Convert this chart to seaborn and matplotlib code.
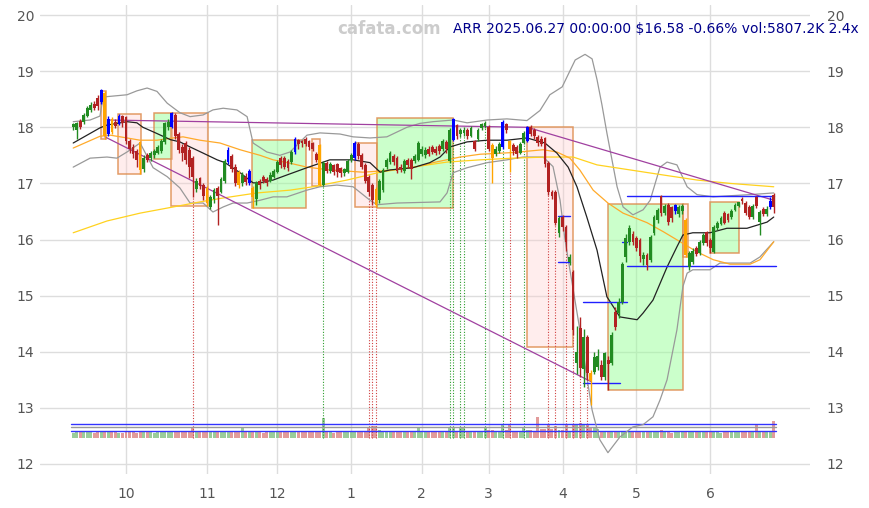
import matplotlib
matplotlib.use("Agg")
import matplotlib.pyplot as plt
from matplotlib.patches import Rectangle
import numpy as np
import seaborn as sns

# ---- daily bars, 2024-09-10 .. 2025-06-27 (trading-day index 0..199) ----
opens = [
    18.00, 17.96, 18.12, 18.10, 18.20, 18.30, 18.42, 18.52, 18.45, 18.62, 17.88, 18.15, 18.10, 18.06, 18.20,
    18.18, 17.75, 17.65, 17.58, 17.74, 17.25, 17.50, 17.45, 17.50, 17.55, 17.58, 17.74, 18.00, 18.00, 18.22,
    17.88, 17.65, 17.72, 17.60, 17.45, 16.90, 17.10, 16.98,
    16.92, 16.58, 16.72, 16.92, 16.85, 17.05, 17.38, 17.48, 17.30, 17.20, 17.00, 17.12, 17.00, 16.92, 16.72,
    17.05, 17.12, 17.08, 17.05, 17.12,
    17.20, 17.45, 17.45, 17.40, 17.38, 17.56, 17.78, 17.76, 17.80, 17.75, 17.72, 17.52, 17.68, 16.98, 17.36,
    17.22, 17.32, 17.34, 17.28, 17.18, 17.20,
    17.42, 17.45, 17.70, 17.50, 17.32, 17.12, 16.98, 16.90, 16.70, 16.88, 17.29, 17.38, 17.48, 17.45, 17.30,
    17.22, 17.42, 17.42, 17.40, 17.42,
    17.52, 17.50, 17.62, 17.65, 17.62, 17.66, 17.62, 17.74, 17.40, 17.78, 18.04, 17.88, 17.90, 17.96, 17.85,
    17.75, 17.80, 17.98, 18.02,
    18.00, 17.68, 17.52, 17.58, 17.65, 18.05, 17.76, 17.68, 17.65, 17.55, 17.72, 17.76, 18.00, 17.96, 17.82,
    17.80, 17.81, 17.37, 16.85, 16.85, 16.12,
    16.40, 16.22, 15.60, 15.42, 13.80, 14.42, 13.70, 14.26, 13.62, 13.64, 13.73, 13.76, 13.55, 13.85, 13.80,
    14.71, 14.69, 14.89, 15.69, 15.96, 16.10,
    16.03, 16.00, 15.65, 15.73, 15.64, 16.12, 16.35, 16.78, 16.47, 16.62, 16.58, 16.50, 16.45, 16.50, 16.35,
    15.51, 15.60, 15.85, 15.76, 15.93, 16.13,
    16.00, 15.78, 16.20, 16.28, 16.47, 16.45, 16.40, 16.52, 16.60, 16.72, 16.65, 16.58, 16.40, 16.75, 16.32,
    16.55, 16.45, 16.58, 16.80,
]
closes = [
    18.05, 18.08, 18.00, 18.22, 18.35, 18.40, 18.35, 18.38, 18.66, 17.85, 18.15, 17.92, 18.02, 18.20, 18.08,
    17.75, 17.62, 17.52, 17.42, 17.24, 17.45, 17.42, 17.55, 17.58, 17.65, 17.76, 18.08, 18.10, 18.25, 17.85,
    17.60, 17.55, 17.42, 17.30, 17.12, 17.05, 16.95, 16.78,
    16.65, 16.75, 16.88, 16.78, 17.08, 17.40, 17.60, 17.25, 17.00, 16.98, 17.15, 17.02, 17.22, 16.75, 17.00,
    16.98, 17.05, 17.00, 17.15, 17.22,
    17.38, 17.32, 17.30, 17.28, 17.56, 17.80, 17.70, 17.72, 17.70, 17.65, 17.62, 17.42, 16.98, 17.36, 17.22,
    17.35, 17.20, 17.20, 17.18, 17.25, 17.40,
    17.50, 17.72, 17.48, 17.30, 17.05, 16.85, 16.70, 16.62, 17.05, 17.24, 17.42, 17.54, 17.38, 17.22, 17.25,
    17.40, 17.32, 17.25, 17.48, 17.72,
    17.62, 17.60, 17.52, 17.56, 17.55, 17.58, 17.76, 17.62, 17.95, 18.15, 17.84, 17.95, 17.96, 17.85, 17.98,
    17.62, 17.95, 18.05, 18.08,
    17.62, 17.45, 17.62, 17.70, 18.10, 17.95, 17.62, 17.58, 17.52, 17.70, 17.90, 18.00, 17.88, 17.84, 17.72,
    17.70, 17.35, 16.84, 16.77, 16.30, 16.38,
    16.22, 15.96, 15.69, 14.39, 14.00, 13.71, 14.26, 13.62, 13.48, 13.90, 13.93, 13.55, 13.97, 13.78, 14.30,
    14.44, 14.89, 15.56, 16.03, 16.20, 15.96,
    15.85, 15.70, 15.72, 15.55, 16.05, 16.40, 16.53, 16.47, 16.60, 16.31, 16.38, 16.62, 16.58, 16.60, 15.72,
    15.76, 15.80, 15.75, 15.96, 16.08, 15.93,
    15.85, 16.22, 16.30, 16.38, 16.30, 16.35, 16.50, 16.62, 16.66, 16.68, 16.47, 16.40, 16.60, 16.60, 16.49,
    16.45, 16.55, 16.69, 16.58,
]
highs = [
    18.08, 18.10, 18.15, 18.25, 18.38, 18.45, 18.47, 18.58, 18.68, 18.65, 18.20, 18.18, 18.14, 18.24, 18.22,
    18.20, 17.80, 17.70, 17.62, 17.76, 17.50, 17.54, 17.58, 17.62, 17.68, 17.80, 18.10, 18.14, 18.27, 18.26,
    17.92, 17.70, 17.76, 17.64, 17.48, 17.10, 17.12, 17.00,
    16.95, 16.80, 16.92, 16.95, 17.12, 17.44, 17.65, 17.52, 17.34, 17.24, 17.20, 17.18, 17.26, 16.95, 17.04,
    17.08, 17.15, 17.12, 17.20, 17.26,
    17.42, 17.48, 17.48, 17.44, 17.60, 17.82, 17.79, 17.78, 17.82, 17.78, 17.74, 17.56, 17.70, 17.40, 17.40,
    17.38, 17.35, 17.36, 17.30, 17.28, 17.44,
    17.54, 17.75, 17.74, 17.54, 17.36, 17.15, 17.00, 16.93, 17.08, 17.28, 17.46, 17.58, 17.52, 17.48, 17.34,
    17.44, 17.45, 17.45, 17.52, 17.76,
    17.66, 17.64, 17.66, 17.68, 17.66, 17.70, 17.80, 17.78, 17.98, 18.17, 18.06, 17.99, 18.00, 17.98, 18.02,
    17.78, 17.98, 18.08, 18.12,
    18.04, 17.72, 17.66, 17.74, 18.13, 18.08, 17.78, 17.72, 17.68, 17.74, 17.93, 18.02, 18.04, 17.98, 17.86,
    17.84, 17.83, 17.40, 16.88, 16.88, 16.42,
    16.44, 16.25, 15.75, 15.45, 14.45, 14.62, 14.40, 14.30, 13.68, 14.00, 14.05, 13.85, 14.00, 13.92, 14.35,
    14.80, 14.95, 15.60, 16.10, 16.25, 16.15,
    16.06, 16.02, 15.78, 15.76, 16.08, 16.44, 16.56, 16.80, 16.63, 16.65, 16.60, 16.64, 16.62, 16.63, 16.38,
    15.80, 15.84, 15.88, 16.00, 16.12, 16.15,
    16.03, 16.25, 16.33, 16.42, 16.50, 16.48, 16.54, 16.65, 16.67, 16.76, 16.68, 16.62, 16.64, 16.78, 16.52,
    16.58, 16.60, 16.76, 16.82,
]
lows = [
    17.95, 17.80, 17.97, 18.05, 18.18, 18.28, 18.30, 18.30, 18.42, 17.80, 17.85, 17.88, 17.98, 18.04, 18.00,
    17.70, 17.55, 17.45, 17.30, 17.17, 17.20, 17.38, 17.40, 17.46, 17.52, 17.55, 17.70, 17.95, 17.98, 17.80,
    17.55, 17.40, 17.35, 17.10, 16.75, 16.85, 16.90, 16.70,
    16.60, 16.55, 16.65, 16.25, 16.82, 17.00, 17.35, 17.20, 16.95, 16.92, 16.96, 16.98, 16.97, 16.56, 16.62,
    16.90, 17.00, 16.95, 17.02, 17.10,
    17.18, 17.28, 17.25, 17.22, 17.35, 17.52, 17.62, 17.65, 17.66, 17.60, 17.58, 17.38, 16.96, 16.95, 17.18,
    17.18, 17.15, 17.12, 17.12, 17.14, 17.18,
    17.38, 17.42, 17.44, 17.26, 17.00, 16.78, 16.62, 16.58, 16.65, 16.85, 17.25, 17.35, 17.32, 17.18, 17.20,
    17.18, 17.28, 17.08, 17.36, 17.40,
    17.48, 17.46, 17.48, 17.52, 17.50, 17.52, 17.58, 17.55, 17.36, 17.75, 17.80, 17.82, 17.85, 17.80, 17.82,
    17.58, 17.76, 17.95, 17.98,
    17.58, 17.00, 17.48, 17.54, 17.62, 17.90, 17.20, 17.50, 17.45, 17.52, 17.70, 17.74, 17.84, 17.80, 17.66,
    17.66, 17.30, 16.80, 16.72, 16.26, 16.05,
    16.15, 15.80, 15.55, 14.30, 13.60, 13.55, 13.37, 13.50, 13.05, 13.60, 13.68, 13.50, 13.50, 13.32, 13.76,
    14.38, 14.60, 14.85, 15.60, 15.90, 15.90,
    15.80, 15.60, 15.55, 15.45, 15.60, 16.08, 16.30, 16.42, 16.44, 16.25, 16.32, 16.46, 16.40, 16.46, 15.68,
    15.45, 15.56, 15.70, 15.72, 15.90, 15.88,
    15.76, 15.76, 16.17, 16.25, 16.27, 16.32, 16.37, 16.50, 16.58, 16.64, 16.44, 16.36, 16.37, 16.56, 16.08,
    16.42, 16.42, 16.55, 16.48,
]
volumes_k = [
    1600, 1800, 1900, 2100, 2200, 1800, 1700, 1900, 2000, 2400, 2100, 2000, 1800, 1700, 1600,
    1900, 2000, 1800, 1700, 2300, 2200, 1800, 1900, 1700, 2000, 1800, 1900, 2200, 2400, 2000,
    1900, 2100, 1800, 2000, 3700, 2100, 1900, 2000,
    2300, 1900, 1800, 2000, 1800, 1900, 2000, 2100, 1900, 1800, 3600, 2000, 1900, 2200, 1800,
    1900, 1700, 1800, 1900, 1900,
    2000, 1800, 1900, 2100, 2200, 2100, 2000, 1800, 1900, 2000, 2200, 1900, 2300, 6900, 2200,
    1900, 1700, 2000, 2300, 2200, 2100,
    2200, 2400, 2100, 2000, 2000, 3800, 3900, 4100, 2500, 2100, 2200, 2000, 2100, 2200, 1900,
    2100, 2000, 2300, 1900, 3600,
    2100, 2000, 1900, 2200, 2000, 1900, 2100, 2000, 3700, 3800, 2200, 3700, 3700, 2300, 2100,
    2000, 2300, 2400, 3700,
    2600, 2500, 2300, 2400, 4600, 2700, 4600, 2400, 2300, 2200, 3700, 2500, 2600, 2400, 7100,
    2800, 3000, 4200, 3000, 4000, 2600,
    2500, 4200, 2400, 4800, 4700, 4900, 4700, 4600, 3700, 3200, 2900, 2400, 2000, 1800, 2000,
    2100, 2200, 2300, 2100, 2100, 1900,
    2000, 2100, 1800, 2000, 1900, 2200, 2000, 2600, 1900, 1800, 1700, 2000, 1900, 1800, 2200,
    2000, 1900, 1800, 2100, 1900, 1800,
    1900, 2000, 1800, 1700, 2200, 1900, 1800, 2100, 1800, 1900, 1800, 1900, 2000, 4500, 2000,
    1800, 1900, 2000, 5807.2,
]

# highlighted bars
blue_days = [8, 10, 13, 28, 44, 50, 63, 80, 108, 122, 129, 171, 198]
orange_days = [9, 11, 19, 38, 47, 51, 70, 86, 119, 124, 147, 174]
# days marked with a dotted drop line
marked_days = [34, 71, 84, 85, 86, 107, 108, 110, 111, 117, 122, 124, 128,
               135, 137, 140, 142, 144, 146]

# month ticks (trading-day index of first session)
month_ticks = [15, 38, 58, 79, 99, 118, 139, 160, 181]
month_labels = ["10", "11", "12", "1", "2", "3", "4", "5", "6"]

# indicator curves: (trading-day index, price)
ma_mid = [(0, 17.72), (7.6, 17.99), (9.6, 18.04), (15.3, 18.10), (18.1, 18.08), (19.8, 18.00),
          (22.7, 17.92), (27.6, 17.78), (30.3, 17.74), (33.2, 17.65), (36.9, 17.54), (40.9, 17.42),
          (43.1, 17.37), (47.4, 17.19), (51.1, 17.01), (53.1, 17.01), (56.8, 17.06), (60.7, 17.15),
          (66.4, 17.28), (72.9, 17.42), (79.5, 17.42), (84.3, 17.37), (87.2, 17.20), (90.0, 17.24),
          (96.5, 17.28), (101.3, 17.37), (104.2, 17.47), (107.0, 17.65), (111.9, 17.74), (117.6, 17.77),
          (123.2, 17.77), (128.9, 17.81), (134.0, 17.72), (137.4, 17.54), (140.6, 17.29), (143.1, 16.94),
          (145.9, 16.40), (148.8, 15.81), (151.6, 14.98), (155.3, 14.62), (160.2, 14.57), (161.9, 14.69),
          (164.7, 14.92), (168.7, 15.51), (171.5, 15.87), (173.2, 16.08), (176.0, 16.12), (180.9, 16.12),
          (185.7, 16.20), (191.4, 16.20), (197.1, 16.31), (199.0, 16.40)]
ma_orange = [(0, 17.63), (7.6, 17.84), (10.5, 17.86), (15.3, 17.81), (19.0, 17.77), (23.8, 17.77),
             (28.4, 17.81), (31.2, 17.83), (36.0, 17.77), (41.7, 17.72), (47.4, 17.60), (53.1, 17.50),
             (56.8, 17.42), (61.6, 17.36), (66.4, 17.29), (72.9, 17.24), (82.3, 17.20), (87.2, 17.22),
             (96.5, 17.28), (102.2, 17.37), (109.9, 17.47), (115.6, 17.52), (124.9, 17.55), (133.5, 17.60),
             (137.4, 17.56), (141.1, 17.45), (143.9, 17.24), (147.7, 16.88), (151.9, 16.65), (156.2, 16.47),
             (163.0, 16.30), (167.6, 16.14), (172.4, 15.96), (177.2, 15.78), (181.8, 15.64), (186.6, 15.56),
             (192.3, 15.56), (195.1, 15.64), (199.0, 15.96)]
ma_yellow = [(0, 16.12), (9.6, 16.33), (19.0, 16.47), (28.4, 16.58), (36.0, 16.67), (42.6, 16.74),
             (52.2, 16.83), (61.6, 16.88), (68.1, 16.94), (77.8, 17.06), (87.2, 17.20), (96.5, 17.29),
             (106.2, 17.38), (115.6, 17.42), (124.9, 17.45), (134.6, 17.47), (142.0, 17.47), (148.8, 17.33),
             (158.2, 17.24), (167.6, 17.15), (177.2, 17.06), (186.6, 17.00), (199.0, 16.94)]
band_upper = [(0, 18.10), (4.8, 18.13), (7.6, 18.20), (8.5, 18.54), (15.3, 18.58), (18.1, 18.65),
              (21.0, 18.70), (23.8, 18.64), (26.7, 18.43), (30.3, 18.26), (33.2, 18.19), (36.9, 18.22),
              (39.7, 18.31), (42.6, 18.34), (46.5, 18.31), (49.4, 18.19), (51.1, 17.72), (55.0, 17.56),
              (58.7, 17.50), (61.6, 17.56), (66.4, 17.86), (70.1, 17.90), (75.8, 17.88), (79.5, 17.83),
              (84.3, 17.81), (89.1, 17.83), (94.8, 18.00), (98.5, 18.07), (102.2, 18.10), (107.9, 18.13),
              (111.9, 18.08), (117.6, 18.13), (123.2, 18.15), (128.9, 18.12), (132.6, 18.30), (135.4, 18.58),
              (138.9, 18.72), (142.6, 19.20), (145.4, 19.30), (147.4, 19.22), (148.8, 18.85), (150.2, 18.40),
              (151.6, 17.90), (154.5, 16.94), (156.2, 16.58), (159.0, 16.44), (161.9, 16.53), (163.9, 16.70),
              (166.7, 17.29), (168.7, 17.38), (171.5, 17.33), (174.4, 16.94), (177.2, 16.80), (181.8, 16.76),
              (186.6, 16.78), (192.3, 16.80), (199.0, 16.83)]
band_lower = [(0, 17.29), (4.8, 17.45), (9.6, 17.47), (12.4, 17.45), (15.3, 17.56), (19.0, 17.72),
              (22.7, 17.28), (26.7, 17.12), (30.3, 16.92), (33.2, 16.65), (36.9, 16.65), (39.7, 16.49),
              (42.6, 16.58), (45.4, 16.65), (49.4, 16.65), (53.1, 16.70), (56.8, 16.76), (60.7, 16.76),
              (66.4, 16.88), (70.1, 16.94), (74.9, 16.97), (79.5, 16.94), (84.3, 16.70), (86.3, 16.62),
              (92.0, 16.65), (104.2, 16.67), (106.2, 16.83), (107.9, 17.19), (111.9, 17.28), (117.6, 17.37),
              (123.2, 17.42), (127.8, 17.47), (133.5, 17.47), (136.3, 17.30), (138.3, 16.70), (139.7, 16.00),
              (141.1, 15.46), (143.9, 14.40), (145.9, 13.55), (147.4, 12.96), (149.6, 12.43), (151.9, 12.20),
              (155.3, 12.48), (159.0, 12.66), (161.9, 12.70), (164.7, 12.84), (166.7, 13.14), (168.7, 13.50),
              (171.5, 14.39), (173.2, 15.16), (174.4, 15.40), (176.0, 15.46), (180.9, 15.46), (183.7, 15.58),
              (192.3, 15.58), (195.1, 15.69), (199.0, 15.96)]

# trend lines: (index0, price0, index1, price1)
trend_lines = [(10, 18.13, 129, 18.00), (129, 18.00, 199, 16.70), (9, 17.83, 147, 13.47)]
# horizontal levels: (index0, index1, price)
levels = [(157.2, 199.0, 16.77), (157.2, 199.6, 15.53), (144.8, 157.4, 14.88), (144.8, 155.3, 13.44),
          (137.8, 141.2, 16.42), (137.8, 141.2, 15.60), (155.8, 157.4, 15.95)]
# ranges: (index0, index1, low, high, kind)
ranges = [(7.9, 9.3, 17.80, 18.65, "down"), (12.7, 19.3, 17.17, 18.24, "down"),
          (23.0, 28.1, 17.44, 18.26, "up"), (27.8, 38.3, 16.60, 18.26, "down"),
          (50.8, 66.1, 16.56, 17.77, "up"), (67.8, 70.1, 16.96, 17.79, "down"),
          (80.1, 86.3, 16.58, 17.72, "down"), (86.3, 107.9, 16.56, 18.17, "up"),
          (128.9, 142.0, 14.09, 18.00, "down"), (151.9, 173.2, 13.32, 16.63, "up"),
          (173.2, 174.6, 15.69, 16.63, "down"), (180.9, 189.1, 15.76, 16.67, "up")]

title = "ARR 2025.06.27 00:00:00 $16.58 -0.66% vol:5807.2K 2.4x"

# ---------------------------------------------------------------------------
sns.set_style("white")
plt.rcParams["font.family"] = ["DejaVu Sans"]

W, H = 870, 508
fig = plt.figure(figsize=(W / 100, H / 100), dpi=100)
ax = fig.add_axes([40 / W, 34 / H, 770 / W, 469 / H])
ax.set_xlim(-9.43, 209.3)
ax.set_ylim(11.82, 20.18)

n = len(closes)
idx = np.arange(n)
o = np.array(opens); c = np.array(closes); hi = np.array(highs); lo = np.array(lows)
vol = np.array(volumes_k)

up = c >= o
colors = np.where(up, "#228b22", "#b22222").astype(object)
for d in blue_days:
    colors[d] = "#0000ff"
for d in orange_days:
    colors[d] = "#ffa500"

# grid
for yv in range(12, 21):
    ax.axhline(yv, color="#dddddd", lw=1.0, zorder=0)
for xv in month_ticks:
    ax.axvline(xv, color="#dddddd", lw=1.0, zorder=0)

# ranges
for x0, x1, b, t, kind in ranges:
    fc = (0.6, 1.0, 0.6, 0.5) if kind == "up" else (1.0, 0.8, 0.8, 0.35)
    ax.add_patch(Rectangle((x0, b), x1 - x0, t - b, facecolor=fc,
                           edgecolor=(0.87, 0.55, 0.3, 0.85), lw=1.1, zorder=1))

# volume histogram on the price scale
VOL_BASE = 12.47
VOL_SCALE = 0.30 / 5807.2
vcol = np.where(up, "#88c488", "#dd8a8a")
ax.bar(idx, vol * VOL_SCALE, bottom=VOL_BASE, width=0.85, color=vcol, alpha=0.85,
       linewidth=0, zorder=2)
avg_vol = 5807.2 / 2.4
for k, col in [(1.0, "#3333ff"), (1.5, "#999999"), (2.0, "#3333ff")]:
    ax.plot([-0.5, n - 0.5], [VOL_BASE + k * avg_vol * VOL_SCALE] * 2, color=col, lw=1.0, zorder=3)

# dotted drop lines
for d in marked_days:
    col = "#2e9e2e" if up[d] else "#d04040"
    ax.plot([d, d], [VOL_BASE, lo[d]], color=col, lw=0.8, ls=(0, (1, 1.5)), zorder=2)

# indicator curves
for pts, col, lw in [(band_upper, "#999999", 0.9), (band_lower, "#999999", 0.9),
                     (ma_yellow, "#ffd21f", 0.9), (ma_orange, "#ffaa2a", 0.9),
                     (ma_mid, "#222222", 0.9)]:
    px = [p[0] for p in pts]; py = [p[1] for p in pts]
    sns.lineplot(x=px, y=py, ax=ax, color=col, lw=lw, sort=False, estimator=None, zorder=3)

for x0, y0, x1, y1 in trend_lines:
    ax.plot([x0, x1], [y0, y1], color="#a040a0", lw=0.9, zorder=3)
for x0, x1, yv in levels:
    ax.plot([x0, x1], [yv, yv], color="#2020ff", lw=1.0, zorder=3)

# candles
ax.vlines(idx, lo, hi, colors=list(colors), lw=1.0, zorder=4)
body_lo = np.minimum(o, c)
body_h = np.maximum(np.abs(c - o), 0.02)
ax.bar(idx, body_h, bottom=body_lo, width=0.8, color=list(colors), linewidth=0, zorder=5)

# axes cosmetics
for s in ax.spines.values():
    s.set_visible(False)
ax.set_xticks(month_ticks)
ax.set_xticklabels(month_labels)
ax.set_yticks(range(12, 21))
ax.tick_params(axis="x", length=5, width=1.3, color="#222222", labelcolor="#555555",
               labelsize=10, pad=4)
ax.tick_params(axis="y", length=0, labelcolor="#555555", labelsize=10, pad=4)
ax.set_xlabel(""); ax.set_ylabel("")

ax2 = ax.twinx()
ax2.set_ylim(ax.get_ylim())
ax2.set_yticks(range(12, 21))
ax2.tick_params(axis="y", length=0, labelcolor="#555555", labelsize=10, pad=12)
for s in ax2.spines.values():
    s.set_visible(False)

fig.text(389 / W, 1 - 29 / H, "cafata.com", color="#cccccc", fontsize=12,
         fontweight="bold", ha="center", va="center")
fig.text(859 / W, 1 - 29 / H, title, color="#00008b", fontsize=10, ha="right", va="center")

fig.savefig("out.png", dpi=100, facecolor="white")
